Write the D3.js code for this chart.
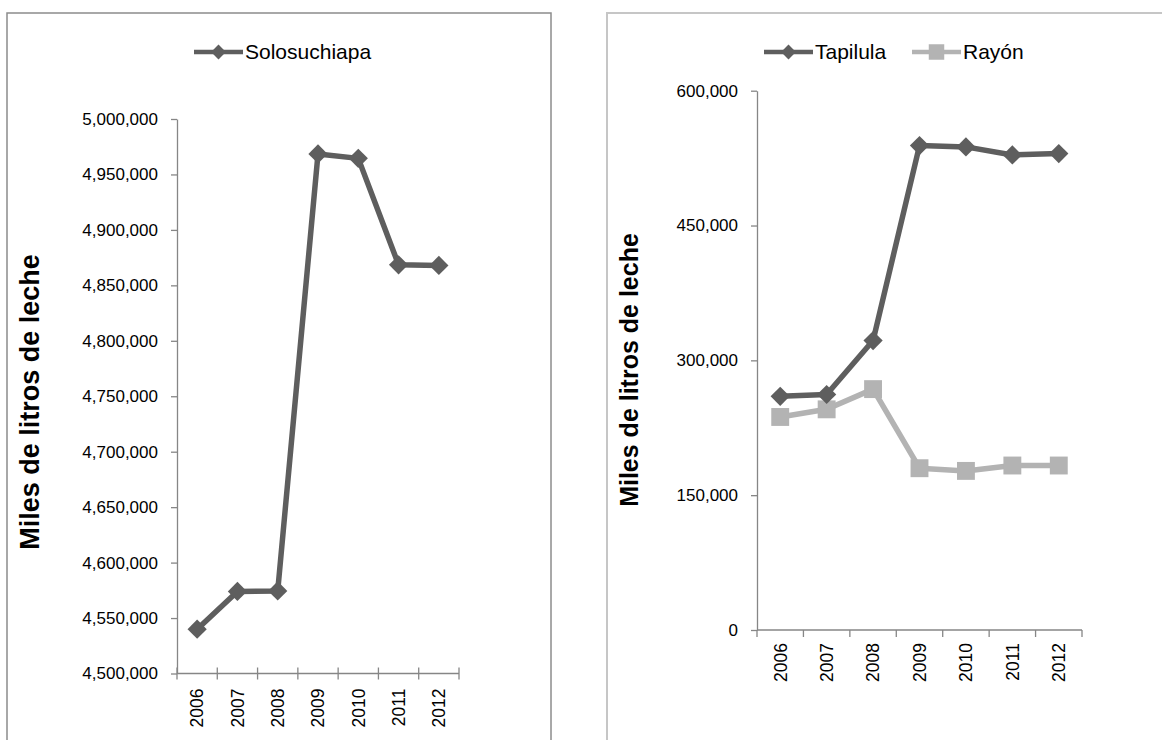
<!DOCTYPE html>
<html>
<head>
<meta charset="utf-8">
<script src="https://cdn.jsdelivr.net/npm/d3@7"></script>
<style>
  body { margin: 0; background: #fff; }
  svg { display: block; font-family: "Liberation Sans", Arial, sans-serif; }
</style>
</head>
<body>
<div id="chart"></div>
<script>
// years on the x axis (both charts)
const years = ["2006", "2007", "2008", "2009", "2010", "2011", "2012"];

// left chart
const solosuchiapa = [4540000, 4574000, 4574500, 4968500, 4964500, 4868500, 4868000];
const leftTicks = [4500000, 4550000, 4600000, 4650000, 4700000, 4750000, 4800000, 4850000, 4900000, 4950000, 5000000];

// right chart
const tapilula = [260000, 262000, 322000, 539000, 537500, 528500, 530000];
const rayon = [237000, 245500, 268000, 180000, 177000, 183000, 183000];
const rightTicks = [0, 150000, 300000, 450000, 600000];

const yTitle = "Miles de litros de leche";

const width = 1162;
const height = 740;
const axisColor = "#868686";
const dark = "#5e5e5e";
const light = "#b3b3b3";
const fmt = d3.format(",");

const svg = d3.select("#chart")
    .append("svg")
    .attr("width", width)
    .attr("height", height);

// chart frames
svg.append("rect")
    .attr("x", 7).attr("y", 13)
    .attr("width", 544).attr("height", 760)
    .attr("fill", "none")
    .attr("stroke", "#8c8c8c")
    .attr("stroke-width", 1.5);

svg.append("rect")
    .attr("x", 607).attr("y", 13)
    .attr("width", 600).attr("height", 760)
    .attr("fill", "none")
    .attr("stroke", "#c6c6c6")
    .attr("stroke-width", 2);

// excel style markers: a diamond is a square turned 45deg
function marker(shape, size) {
    return d3.symbol().type(d3.symbolSquare).size(size)();
}

function drawChart(opt) {
    const g = svg.append("g");

    const x = d3.scaleBand()
        .domain(years)
        .range(opt.xRange)
        .padding(0);

    const y = d3.scaleLinear()
        .domain(opt.yDomain)
        .range(opt.yRange);

    // y axis
    const yAxis = g.append("g")
        .attr("transform", `translate(${opt.xRange[0]},0)`)
        .call(d3.axisLeft(y)
            .tickValues(opt.yTicks)
            .tickFormat(fmt)
            .tickSize(6)
            .tickSizeOuter(0)
            .tickPadding(13));
    yAxis.select(".domain").attr("stroke", axisColor).attr("stroke-width", 1.3);
    yAxis.selectAll(".tick line").attr("stroke", axisColor).attr("stroke-width", 1.3);
    yAxis.selectAll(".tick text")
        .attr("fill", "#000")
        .attr("font-size", 17)
        .attr("font-family", "Liberation Sans, Arial, sans-serif");

    // x axis, ticks between categories
    const y0 = opt.yRange[0];
    g.append("line")
        .attr("x1", opt.xRange[0]).attr("x2", opt.xRange[1])
        .attr("y1", y0).attr("y2", y0)
        .attr("stroke", axisColor)
        .attr("stroke-width", 1.3);

    const edges = years.map(d => x(d)).concat([x(years[years.length - 1]) + x.bandwidth()]);
    g.selectAll("line.xtick")
        .data(edges)
        .join("line")
        .attr("class", "xtick")
        .attr("x1", d => d).attr("x2", d => d)
        .attr("y1", y0 + opt.tickUp).attr("y2", y0 + opt.tickDown)
        .attr("stroke", axisColor)
        .attr("stroke-width", 1.3);

    g.selectAll("text.year")
        .data(years)
        .join("text")
        .attr("class", "year")
        .attr("transform", d => `translate(${x(d) + x.bandwidth() / 2},${y0 + opt.labelGap}) rotate(-90)`)
        .attr("text-anchor", "end")
        .attr("dy", "0.36em")
        .attr("font-size", 17.5)
        .attr("fill", "#000")
        .text(d => d);

    // axis title
    g.append("text")
        .attr("transform", `translate(${opt.titleX},${opt.titleY}) rotate(-90)`)
        .attr("text-anchor", "middle")
        .attr("font-size", opt.titleSize)
        .attr("font-weight", "bold")
        .attr("fill", "#000")
        .text(yTitle);

    const line = d3.line()
        .x((d, i) => x(years[i]) + x.bandwidth() / 2)
        .y(d => y(d));

    opt.series.forEach(s => {
        g.append("path")
            .datum(s.values)
            .attr("fill", "none")
            .attr("stroke", s.color)
            .attr("stroke-width", 5.5)
            .attr("stroke-linejoin", "round")
            .attr("d", line);

        g.selectAll(null)
            .data(s.values)
            .join("path")
            .attr("transform", (d, i) => `translate(${x(years[i]) + x.bandwidth() / 2},${y(d)})` + (s.shape === "diamond" ? " rotate(45)" : ""))
            .attr("d", s.shape === "diamond" ? marker("diamond", 185) : marker("square", 320))
            .attr("fill", s.color);
    });

    // legend
    opt.legend.forEach(l => {
        const s = l.series;
        g.append("line")
            .attr("x1", l.x).attr("x2", l.x + 49)
            .attr("y1", 52).attr("y2", 52)
            .attr("stroke", s.color)
            .attr("stroke-width", 4.5);
        g.append("path")
            .attr("transform", `translate(${l.x + 24.5},52)` + (s.shape === "diamond" ? " rotate(45)" : ""))
            .attr("d", s.shape === "diamond" ? marker("diamond", 110) : marker("square", 240))
            .attr("fill", s.color);
        g.append("text")
            .attr("x", l.x + 51)
            .attr("y", 59)
            .attr("font-size", 21)
            .attr("fill", "#000")
            .text(s.name);
    });
}

const solSeries = { name: "Solosuchiapa", values: solosuchiapa, color: dark, shape: "diamond" };
const tapSeries = { name: "Tapilula", values: tapilula, color: dark, shape: "diamond" };
const raySeries = { name: "Rayón", values: rayon, color: light, shape: "square" };

drawChart({
    xRange: [177, 459],
    yDomain: [4500000, 5000000],
    yRange: [673.5, 119],
    yTicks: leftTicks,
    tickUp: -6, tickDown: 6,
    labelGap: 15,
    titleX: 39, titleY: 402, titleSize: 27,
    series: [solSeries],
    legend: [{ x: 194, series: solSeries }]
});

drawChart({
    xRange: [757, 1082],
    yDomain: [0, 600000],
    yRange: [630, 90.7],
    yTicks: rightTicks,
    tickUp: 0, tickDown: 7,
    labelGap: 13,
    titleX: 638, titleY: 370, titleSize: 25,
    series: [raySeries, tapSeries],
    legend: [{ x: 764, series: tapSeries }, { x: 912, series: raySeries }]
});
</script>
</body>
</html>
